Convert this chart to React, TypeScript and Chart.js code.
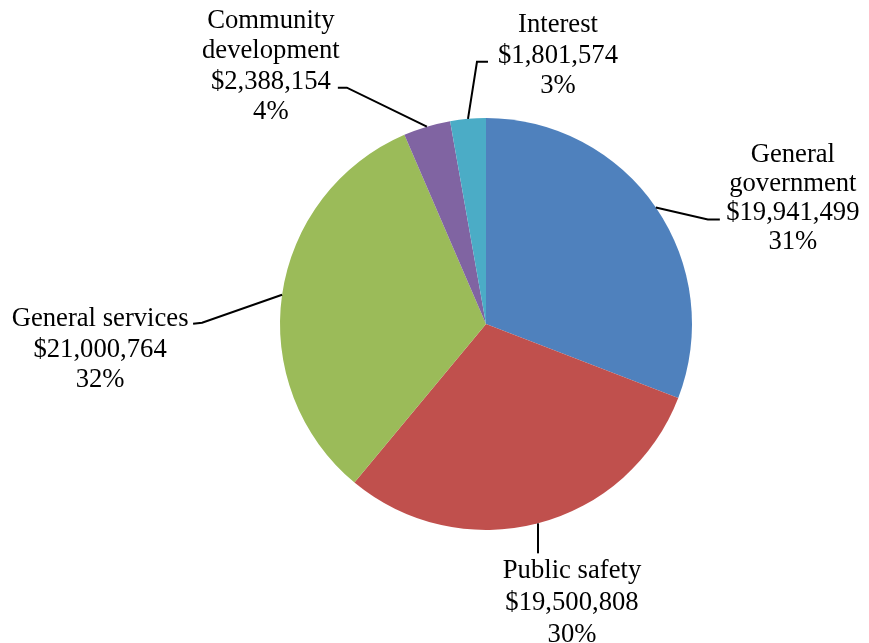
import React, { useEffect, useRef } from "react";
import { Chart, registerables } from "chart.js";

Chart.register(...registerables);

const categories = ["General\ngovernment", "Public safety", "General services", "Community\ndevelopment", "Interest"];
const amounts = [19941499, 19500808, 21000764, 2388154, 1801574];
const colors = ["#4F81BD", "#C0504D", "#9BBB59", "#8064A2", "#4BACC6"];

// label layout: offsets (px) relative to the slice's outer-arc midpoint; text = first baseline
const LABEL_LAYOUT = [
  { leader: [[52, 12], [64, 12]], text: [137, -45.3], lineH: 29 },
  { leader: [[0, 30], [0, 30]], text: [34, 54.6], lineH: 32 },
  { leader: [[-80, 28], [-89, 29]], text: [-182, 31.4], lineH: 30.5 },
  { leader: [[-80, -39], [-89, -39]], text: [-156, -98.7], lineH: 30.3 },
  { leader: [[9, -57], [20, -57]], text: [90, -86.5], lineH: 30.5 },
];

const FONT = '26.67px "Liberation Serif", "Times New Roman", serif';

const fmt = (v: number) => "$" + v.toLocaleString("en-US");

const labelPlugin = {
  id: "pieLabels",
  afterDatasetsDraw(chart: any) {
    const ctx = chart.ctx;
    const meta = chart.getDatasetMeta(0);
    const data = chart.data.datasets[0].data as number[];
    const total = data.reduce((a, b) => a + b, 0);
    ctx.save();
    meta.data.forEach((arc: any, i: number) => {
      const p = arc.getProps(["x", "y", "startAngle", "endAngle", "outerRadius"], true);
      const mid = (p.startAngle + p.endAngle) / 2;
      const ax = p.x + Math.cos(mid) * p.outerRadius;
      const ay = p.y + Math.sin(mid) * p.outerRadius;
      const lay = LABEL_LAYOUT[i];
      ctx.strokeStyle = "#000";
      ctx.lineWidth = 2;
      ctx.beginPath();
      ctx.moveTo(ax, ay);
      lay.leader.forEach(([dx, dy]) => ctx.lineTo(ax + dx, ay + dy));
      ctx.stroke();
      const lines = [
        ...String(chart.data.labels[i]).split("\n"),
        fmt(data[i]),
        Math.round((data[i] / total) * 100) + "%",
      ];
      ctx.fillStyle = "#000";
      ctx.font = FONT;
      ctx.textAlign = "center";
      ctx.textBaseline = "alphabetic";
      lines.forEach((t, k) => {
        ctx.fillText(t, ax + lay.text[0], ay + lay.text[1] + k * lay.lineH);
      });
    });
    ctx.restore();
  },
};

export default function App() {
  const ref = useRef<HTMLCanvasElement>(null);
  useEffect(() => {
    document.body.style.margin = "0";
    const chart = new Chart(ref.current!, {
      type: "pie",
      data: {
        labels: categories,
        datasets: [
          {
            data: amounts,
            backgroundColor: colors,
            borderWidth: 0,
          },
        ],
      },
      options: {
        responsive: false,
        animation: false,
        layout: { padding: { top: 118, bottom: 113, left: 280, right: 177 } },
        plugins: {
          legend: { display: false },
          tooltip: { enabled: false },
        },
      },
      plugins: [labelPlugin],
    });
    return () => chart.destroy();
  }, []);
  return (
    <div style={{ position: "absolute", left: 0, top: 0, width: 869, height: 643, background: "#fff" }}>
      <canvas ref={ref} width={869} height={643} />
    </div>
  );
}
